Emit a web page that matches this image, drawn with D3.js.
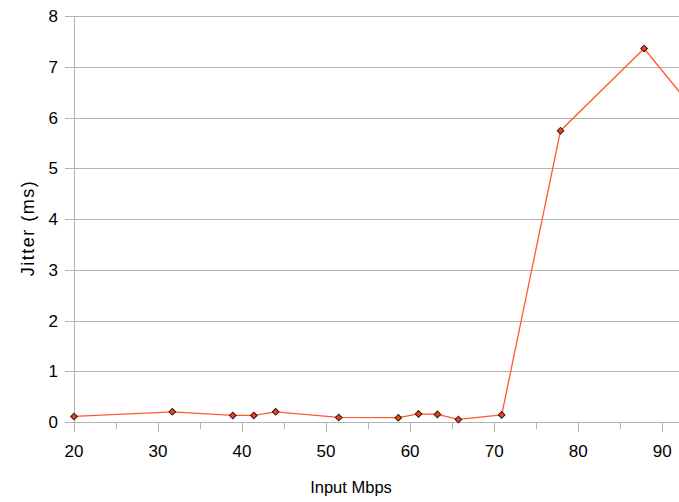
<!DOCTYPE html>
<html>
<head>
<meta charset="utf-8">
<script src="https://cdn.jsdelivr.net/npm/d3@7"></script>
<style>
  body { margin: 0; background: #fff; }
  text { font-family: "Liberation Sans", Arial, sans-serif; fill: #000; }
</style>
</head>
<body>
<div id="chart"></div>
<script>
// data
var inputMbps = [20, 31.7, 38.9, 41.4, 44.0, 51.5, 58.6, 61.0, 63.25, 65.75, 70.9, 77.9, 87.85, 96];
var jitterMs  = [0.11, 0.2, 0.13, 0.13, 0.2, 0.09, 0.085, 0.16, 0.15, 0.05, 0.14, 5.74, 7.36, 5.7];
var xTicks = [20, 30, 40, 50, 60, 70, 80, 90];
var xMinor = [25, 35, 45, 55, 65, 75, 85];
var yTicks = [0, 1, 2, 3, 4, 5, 6, 7, 8];

var W = 679, H = 502;
var margin = {top: 16, right: 0, bottom: 80, left: 74};
var width = W - margin.left - margin.right,
    height = H - margin.top - margin.bottom;

var svg = d3.select("#chart").append("svg")
    .attr("width", W)
    .attr("height", H);

var g = svg.append("g").attr("transform", "translate(" + margin.left + "," + margin.top + ")");

var x = d3.scaleLinear().domain([20, 92]).range([0, width]);
var y = d3.scaleLinear().domain([0, 8]).range([height, 0]);

var data = inputMbps.map(function(d, i) { return {x: d, y: jitterMs[i]}; });

// gridlines
g.selectAll(".grid")
    .data(yTicks)
  .enter().append("line")
    .attr("class", "grid")
    .attr("x1", -9)
    .attr("x2", width)
    .attr("y1", function(d) { return Math.round(y(d)) + 0.5; })
    .attr("y2", function(d) { return Math.round(y(d)) + 0.5; })
    .attr("stroke", "#b3b3b3")
    .attr("stroke-width", 1);

// y axis line
g.append("line")
    .attr("x1", 0.5).attr("x2", 0.5)
    .attr("y1", 0).attr("y2", height)
    .attr("stroke", "#b3b3b3");

// y labels
g.selectAll(".ylab")
    .data(yTicks)
  .enter().append("text")
    .attr("class", "ylab")
    .attr("x", -16)
    .attr("y", function(d) { return y(d); })
    .attr("dy", "0.36em")
    .attr("text-anchor", "end")
    .style("font-size", "17px")
    .text(function(d) { return d; });

// x ticks
g.selectAll(".xtick")
    .data(xTicks)
  .enter().append("line")
    .attr("x1", function(d) { return Math.round(x(d)) + 0.5; })
    .attr("x2", function(d) { return Math.round(x(d)) + 0.5; })
    .attr("y1", height).attr("y2", height + 10)
    .attr("stroke", "#b3b3b3");

g.selectAll(".xminor")
    .data(xMinor)
  .enter().append("line")
    .attr("x1", function(d) { return Math.round(x(d)) + 0.5; })
    .attr("x2", function(d) { return Math.round(x(d)) + 0.5; })
    .attr("y1", height).attr("y2", height + 7)
    .attr("stroke", "#b3b3b3");

g.selectAll(".xlab")
    .data(xTicks)
  .enter().append("text")
    .attr("x", function(d) { return x(d); })
    .attr("y", height + 35)
    .attr("text-anchor", "middle")
    .style("font-size", "17px")
    .text(function(d) { return d; });

// line + markers, clipped to plot
svg.append("defs").append("clipPath").attr("id", "clip")
  .append("rect").attr("x", -10).attr("y", -10).attr("width", width + 10).attr("height", height + 20);

var plot = g.append("g").attr("clip-path", "url(#clip)");

var line = d3.line()
    .x(function(d) { return x(d.x); })
    .y(function(d) { return y(d.y); });

plot.append("path")
    .datum(data)
    .attr("fill", "none")
    .attr("stroke", "#ff5a2e")
    .attr("stroke-width", 1.3)
    .attr("d", line);

var diamond = d3.symbol().type(d3.symbolSquare).size(22);

plot.selectAll(".pt")
    .data(data)
  .enter().append("path")
    .attr("class", "pt")
    .attr("d", diamond)
    .attr("transform", function(d) { return "translate(" + x(d.x) + "," + y(d.y) + ") rotate(45)"; })
    .attr("fill", "#ff3d0a")
    .attr("stroke", "#222")
    .attr("stroke-width", 1);

// axis titles
svg.append("text")
    .attr("x", 351)
    .attr("y", 493)
    .attr("text-anchor", "middle")
    .style("font-size", "16.5px")
    .text("Input Mbps");

svg.append("text")
    .attr("transform", "translate(34,228) rotate(-90)")
    .attr("text-anchor", "middle")
    .style("font-size", "18px")
    .style("letter-spacing", "1.5px")
    .text("Jitter (ms)");
</script>
</body>
</html>
